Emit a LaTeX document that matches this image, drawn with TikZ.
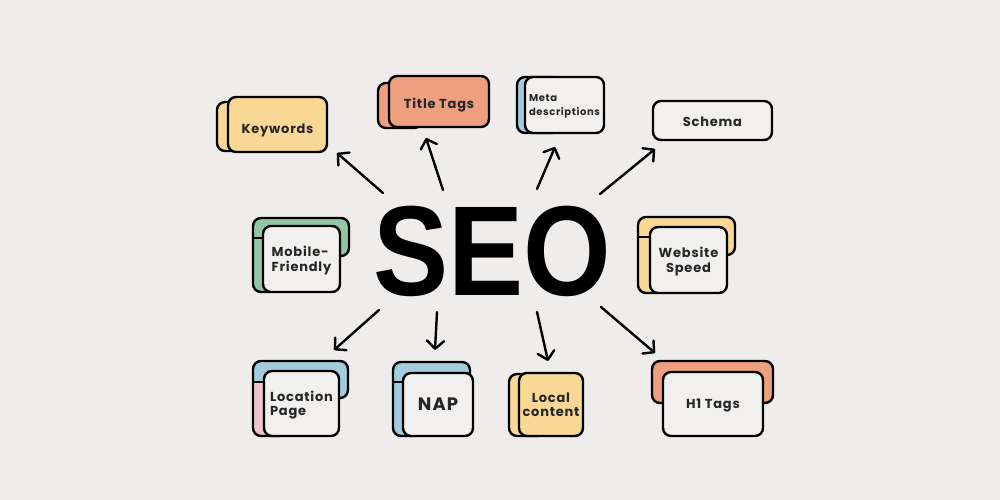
\documentclass[tikz,border=0pt]{standalone}
\usepackage{fontspec}
\setmainfont{Poppins}[LetterSpace=6]
\newfontfamily\seofont{Liberation Sans}
\usetikzlibrary{arrows.meta}
\definecolor{bg}{HTML}{EEEDEB}
\definecolor{cyel}{HTML}{F9D795}
\definecolor{csal}{HTML}{EE9F80}
\definecolor{cblu}{HTML}{A2CBDD}
\definecolor{cgrn}{HTML}{92C6A4}
\definecolor{cpnk}{HTML}{EDC4CE}
\definecolor{clt}{HTML}{F1F0EE}
\tikzset{
  boxline/.style={draw=black, line width=2.4pt, rounded corners=8pt, line join=round},
  frontbox/.style={boxline, rectangle, inner sep=0pt, align=center, text=black!85,
     text depth=0pt, font=\fontsize{13}{14.5}\selectfont\bfseries},
  arr/.style={line width=2.4pt, line cap=round, -{Straight Barb[length=8pt,width=17pt,line cap=round,line join=round]}},
  sepline/.style={line width=2pt}
}
\begin{document}
\begin{tikzpicture}[x=1pt,y=-1pt]
\fill[bg] (0,0) rectangle (1000,500);
\useasboundingbox (0,0) rectangle (1000,500);

% ---- Keywords
\draw[boxline, fill=cyel] (217,102) rectangle (262,151);
\node[frontbox, fill=cyel, minimum width=99pt, minimum height=55pt, text height=17pt] (kw) at (277.5,124.5) {Keywords};

% ---- Title Tags
\draw[boxline, fill=csal] (378,83) rectangle (422,128);
\node[frontbox, fill=csal, minimum width=100pt, minimum height=51pt, text height=13.5pt] (tt) at (439,101.5) {Title Tags};

% ---- Meta descriptions
\draw[boxline, fill=cblu] (517,77) rectangle (560,133);
\node[frontbox, fill=clt, minimum width=79pt, minimum height=56pt, font=\fontsize{10}{14}\selectfont\bfseries, align=left] (md) at (564.5,105) {Meta\\descriptions};

% ---- Schema
\node[frontbox, fill=clt, minimum width=119pt, minimum height=39pt, text height=11.5pt] (sc) at (712.5,120.5) {Schema};

% ---- Mobile-Friendly
\draw[boxline, fill=cgrn] (270,292) -- (253,292) -- (253,218) -- (349,218) -- (349,256) -- (332,256);
\draw[sepline] (253,238) -- (263,238);
\node[frontbox, fill=clt, minimum width=77pt, minimum height=66pt, align=left] (mf) at (301.5,259) {Mobile-\\Friendly};

% ---- Website Speed
\draw[boxline, fill=cyel] (657,293) -- (638,293) -- (638,217) -- (735,217) -- (735,255) -- (718,255);
\draw[sepline] (638,237) -- (650,237);
\node[frontbox, fill=clt, minimum width=77pt, minimum height=66pt] (ws) at (688.5,260) {Website\\Speed};

% ---- Location Page
\begin{scope}
  \clip[rounded corners=8pt] (280,436) -- (253,436) -- (253,361) -- (348,361) -- (348,398) -- (330,398) -- (330,436) -- cycle;
  \fill[cblu] (240,350) rectangle (360,440);
  \fill[cpnk] (240,382) rectangle (275,440);
\end{scope}
\draw[boxline] (280,436) -- (253,436) -- (253,361) -- (348,361) -- (348,398) -- (330,398);
\draw[sepline] (253,382) -- (264,382);
\node[frontbox, fill=clt, minimum width=75pt, minimum height=65pt, align=left] (lp) at (301.5,403.5) {Location\\Page};

% ---- NAP
\draw[boxline, fill=cblu] (415,436) -- (393,436) -- (393,362) -- (470,362) -- (470,385);
\draw[sepline] (393,382) -- (403,382);
\node[frontbox, fill=clt, minimum width=70pt, minimum height=63pt, font=\fontsize{18}{20}\selectfont\bfseries] (nap) at (438,404.5) {NAP};

% ---- Local content
\draw[boxline, fill=cyel] (509,374) rectangle (545,436);
\node[frontbox, fill=cyel, minimum width=64pt, minimum height=63pt] (lc) at (551,404.5) {Local\\content};

% ---- H1 Tags
\draw[boxline, fill=csal] (675,403) -- (652,403) -- (652,361) -- (773,361) -- (773,403) -- (750,403);
\node[frontbox, fill=clt, minimum width=100pt, minimum height=64pt] (h1) at (713,404) {H1 Tags};

% ---- SEO
\node[anchor=base, inner sep=0pt, xscale=0.88, font=\seofont\bfseries\fontsize{128}{130}\selectfont] (seo) at (492,295) {SEO};

% ---- arrow ends
\coordinate (t1) at (383,193); \coordinate (h1a) at (337,153);
\coordinate (t2) at (443,190); \coordinate (h2a) at (426,138);
\coordinate (t3) at (537,189); \coordinate (h3a) at (555,147);
\coordinate (t4) at (600,194); \coordinate (h4a) at (655,149);
\coordinate (t5) at (379,310); \coordinate (h5a) at (334,350);
\coordinate (t6) at (437,312); \coordinate (h6a) at (435,350);
\coordinate (t7) at (537,312); \coordinate (h7a) at (548,361);
\coordinate (t8) at (601,307); \coordinate (h8a) at (655,353);
\foreach \i in {1,...,8} { \draw[arr] (t\i) -- (h\i a); }
\end{tikzpicture}
\end{document}
